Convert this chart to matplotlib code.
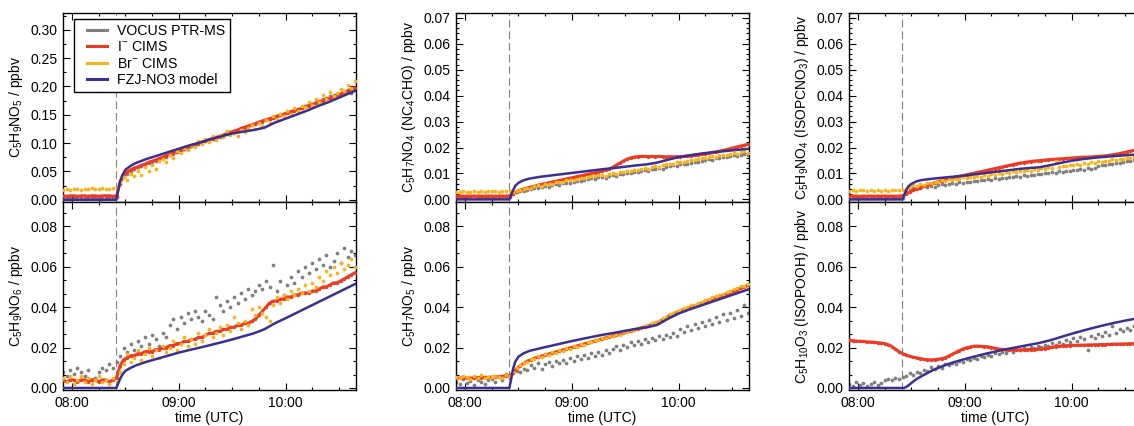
import numpy as np
import matplotlib
matplotlib.use('Agg')
import matplotlib.pyplot as plt
from matplotlib.ticker import MultipleLocator, AutoMinorLocator, FuncFormatter, FormatStrFormatter
from matplotlib.lines import Line2D
from matplotlib.legend_handler import HandlerLine2D

plt.rcParams['font.family'] = ['Liberation Sans', 'DejaVu Sans']
plt.rcParams['mathtext.fontset'] = 'custom'
plt.rcParams['mathtext.rm'] = 'Liberation Sans'
plt.rcParams['mathtext.it'] = 'Liberation Sans:italic'
plt.rcParams['font.size'] = 10

# measurements every 2 min from 07:55 UTC (decimal hours)
t_meas = 7 + (55 + 2 * np.arange(83)) / 60.0
# model output times (decimal hours)
t_model = [7.90, 8.415, 8.43, 8.45, 8.47, 8.50, 8.55, 8.60, 8.70, 8.80, 8.90, 9.00, 9.10, 9.20,
           9.30, 9.40, 9.50, 9.60, 9.70, 9.80, 9.90, 10.00, 10.10, 10.20, 10.30, 10.40, 10.50,
           10.60, 10.70]
t_inject = 8.415

# ---- C5H9NO5 ----
a_vocus = [0.003, 0.004, 0.002, 0.003, 0.004, 0.003, 0.002, 0.004, 0.003, 0.003,
           0.004, 0.002, 0.003, 0.004, 0.003, 0.004, 0.028, 0.040, 0.046, 0.050,
           0.054, 0.057, 0.059, 0.062, 0.064, 0.067, 0.069, 0.071, 0.074, 0.076,
           0.079, 0.081, 0.084, 0.087, 0.089, 0.091, 0.094, 0.096, 0.099, 0.101,
           0.103, 0.105, 0.107, 0.109, 0.111, 0.113, 0.116, 0.118, 0.121, 0.122,
           0.124, 0.127, 0.129, 0.131, 0.133, 0.136, 0.138, 0.140, 0.142, 0.145,
           0.147, 0.149, 0.151, 0.153, 0.156, 0.158, 0.160, 0.162, 0.165, 0.167,
           0.169, 0.172, 0.175, 0.177, 0.180, 0.183, 0.185, 0.187, 0.189, 0.191,
           0.193, 0.188, 0.196]
a_icims = [0.007, 0.006, 0.007, 0.007, 0.006, 0.007, 0.007, 0.006, 0.007, 0.007,
           0.006, 0.007, 0.007, 0.007, 0.006, 0.007, 0.030, 0.042, 0.049, 0.053,
           0.056, 0.058, 0.061, 0.063, 0.066, 0.068, 0.070, 0.073, 0.075, 0.078,
           0.080, 0.083, 0.085, 0.088, 0.090, 0.093, 0.095, 0.097, 0.100, 0.102,
           0.104, 0.106, 0.108, 0.110, 0.112, 0.114, 0.117, 0.119, 0.121, 0.123,
           0.126, 0.128, 0.130, 0.132, 0.134, 0.137, 0.139, 0.141, 0.143, 0.145,
           0.147, 0.149, 0.151, 0.153, 0.155, 0.157, 0.159, 0.161, 0.164, 0.166,
           0.168, 0.170, 0.173, 0.175, 0.177, 0.179, 0.182, 0.184, 0.186, 0.189,
           0.192, 0.195, 0.198]
a_brcims = [0.018, 0.019, 0.018, 0.019, 0.019, 0.018, 0.019, 0.019, 0.020, 0.019,
            0.019, 0.020, 0.019, 0.019, 0.020, 0.021, 0.032, 0.040, 0.035, 0.046,
            0.041, 0.050, 0.044, 0.058, 0.050, 0.062, 0.055, 0.068, 0.071, 0.066,
            0.079, 0.074, 0.086, 0.082, 0.092, 0.087, 0.097, 0.093, 0.104, 0.099,
            0.108, 0.101, 0.112, 0.106, 0.115, 0.110, 0.121, 0.114, 0.118, 0.112,
            0.123, 0.119, 0.127, 0.131, 0.125, 0.136, 0.130, 0.141, 0.136, 0.147,
            0.142, 0.152, 0.147, 0.156, 0.151, 0.162, 0.157, 0.166, 0.163, 0.172,
            0.168, 0.177, 0.173, 0.184, 0.178, 0.190, 0.183, 0.188, 0.196, 0.192,
            0.203, 0.198, 0.210]
a_model = [0, 0, 0.015, 0.033, 0.043, 0.053, 0.060, 0.065, 0.072, 0.078, 0.084, 0.090,
           0.096, 0.101, 0.107, 0.112, 0.117, 0.120, 0.123, 0.127, 0.136, 0.143, 0.150,
           0.157, 0.165, 0.172, 0.180, 0.188, 0.196]

# ---- C5H9NO6 ----
b_vocus = [0.008, 0.006, 0.009, 0.007, 0.010, 0.008, 0.006, 0.009, 0.004, 0.005,
           0.008, 0.010, 0.009, 0.012, 0.010, 0.013, 0.016, 0.020, 0.018, 0.022,
           0.019, 0.023, 0.021, 0.025, 0.022, 0.026, 0.024, 0.021, 0.027, 0.025,
           0.031, 0.034, 0.029, 0.035, 0.032, 0.037, 0.034, 0.038, 0.035, 0.033,
           0.038, 0.036, 0.034, 0.045, 0.041, 0.038, 0.043, 0.040, 0.045, 0.042,
           0.047, 0.044, 0.049, 0.046, 0.048, 0.051, 0.049, 0.053, 0.050, 0.061,
           0.048, 0.053, 0.046, 0.051, 0.055, 0.052, 0.058, 0.055, 0.060, 0.057,
           0.062, 0.059, 0.064, 0.061, 0.066, 0.060, 0.063, 0.067, 0.062, 0.069,
           0.065, 0.068, 0.066]
b_icims = [0.004, 0.003, 0.004, 0.004, 0.003, 0.004, 0.004, 0.003, 0.004, 0.004,
           0.003, 0.004, 0.004, 0.003, 0.004, 0.005, 0.011, 0.014, 0.015, 0.016,
           0.016, 0.017, 0.017, 0.018, 0.018, 0.018, 0.019, 0.019, 0.020, 0.020,
           0.021, 0.021, 0.022, 0.022, 0.023, 0.023, 0.024, 0.024, 0.025, 0.025,
           0.026, 0.027, 0.027, 0.028, 0.028, 0.029, 0.029, 0.030, 0.030, 0.031,
           0.031, 0.032, 0.032, 0.033, 0.034, 0.036, 0.038, 0.040, 0.042, 0.043,
           0.043, 0.044, 0.044, 0.045, 0.045, 0.046, 0.046, 0.047, 0.047, 0.047,
           0.048, 0.048, 0.049, 0.050, 0.050, 0.051, 0.052, 0.052, 0.053, 0.054,
           0.055, 0.056, 0.057]
b_brcims = [0.005, 0.003, 0.006, 0.002, 0.004, 0.006, 0.003, 0.005, 0.002, 0.004,
            0.006, 0.003, 0.004, 0.002, 0.005, 0.003, 0.008, 0.012, 0.017, 0.013,
            0.015, 0.019, 0.014, 0.017, 0.020, 0.016, 0.019, 0.015, 0.021, 0.018,
            0.020, 0.023, 0.019, 0.022, 0.025, 0.021, 0.024, 0.022, 0.027, 0.023,
            0.026, 0.029, 0.025, 0.027, 0.030, 0.026, 0.031, 0.028, 0.035, 0.032,
            0.029, 0.033, 0.031, 0.039, 0.036, 0.040, 0.037, 0.035, 0.033, 0.041,
            0.045, 0.042, 0.046, 0.044, 0.048, 0.046, 0.049, 0.047, 0.051, 0.048,
            0.052, 0.050, 0.055, 0.053, 0.058, 0.056, 0.060, 0.057, 0.062, 0.059,
            0.061, 0.064, 0.060]
b_model = [0, 0, 0.002, 0.0045, 0.0065, 0.0085, 0.0100, 0.0112, 0.0130, 0.0145, 0.0160,
           0.0175, 0.0188, 0.0200, 0.0213, 0.0226, 0.0240, 0.0255, 0.0270, 0.0290, 0.0320,
           0.0345, 0.0371, 0.0397, 0.0423, 0.0449, 0.0475, 0.0501, 0.0527]

# ---- C5H7NO4 (NC4CHO) ----
c_vocus = [0.0010, 0.0008, 0.0011, 0.0009, 0.0010, 0.0012, 0.0009, 0.0011, 0.0010, 0.0008,
           0.0011, 0.0009, 0.0010, 0.0012, 0.0009, 0.0011, 0.0020, 0.0027, 0.0031, 0.0034,
           0.0038, 0.0041, 0.0044, 0.0043, 0.0048, 0.0051, 0.0049, 0.0055, 0.0058, 0.0056,
           0.0062, 0.0065, 0.0063, 0.0069, 0.0072, 0.0070, 0.0076, 0.0078, 0.0081, 0.0079,
           0.0085, 0.0087, 0.0084, 0.0090, 0.0093, 0.0091, 0.0097, 0.0099, 0.0102, 0.0100,
           0.0106, 0.0104, 0.0109, 0.0112, 0.0110, 0.0116, 0.0118, 0.0121, 0.0119, 0.0125,
           0.0128, 0.0131, 0.0129, 0.0135, 0.0138, 0.0136, 0.0142, 0.0145, 0.0143, 0.0149,
           0.0152, 0.0155, 0.0153, 0.0158, 0.0161, 0.0164, 0.0162, 0.0167, 0.0170, 0.0168,
           0.0173, 0.0176, 0.0172]
c_icims = [0.0012, 0.0013, 0.0012, 0.0013, 0.0012, 0.0013, 0.0012, 0.0013, 0.0012, 0.0013,
           0.0013, 0.0012, 0.0013, 0.0012, 0.0013, 0.0014, 0.0022, 0.0030, 0.0036, 0.0040,
           0.0044, 0.0048, 0.0051, 0.0055, 0.0058, 0.0061, 0.0064, 0.0067, 0.0070, 0.0073,
           0.0076, 0.0079, 0.0082, 0.0085, 0.0088, 0.0091, 0.0094, 0.0097, 0.0100, 0.0103,
           0.0106, 0.0109, 0.0112, 0.0117, 0.0124, 0.0132, 0.0140, 0.0148, 0.0155, 0.0160,
           0.0163, 0.0165, 0.0166, 0.0166, 0.0165, 0.0166, 0.0165, 0.0166, 0.0165, 0.0164,
           0.0165, 0.0164, 0.0165, 0.0165, 0.0166, 0.0167, 0.0168, 0.0170, 0.0172, 0.0174,
           0.0176, 0.0178, 0.0181, 0.0183, 0.0186, 0.0189, 0.0192, 0.0196, 0.0199, 0.0203,
           0.0206, 0.0209, 0.0212]
c_brcims = [0.0030, 0.0028, 0.0031, 0.0029, 0.0030, 0.0032, 0.0029, 0.0031, 0.0030, 0.0032,
            0.0031, 0.0033, 0.0030, 0.0032, 0.0031, 0.0033, 0.0030, 0.0033, 0.0036, 0.0041,
            0.0045, 0.0043, 0.0050, 0.0054, 0.0052, 0.0058, 0.0061, 0.0059, 0.0066, 0.0068,
            0.0066, 0.0073, 0.0076, 0.0074, 0.0080, 0.0084, 0.0081, 0.0088, 0.0091, 0.0089,
            0.0095, 0.0093, 0.0090, 0.0098, 0.0102, 0.0099, 0.0106, 0.0104, 0.0110, 0.0108,
            0.0114, 0.0112, 0.0118, 0.0121, 0.0119, 0.0125, 0.0128, 0.0126, 0.0132, 0.0135,
            0.0138, 0.0136, 0.0143, 0.0146, 0.0144, 0.0150, 0.0153, 0.0151, 0.0157, 0.0160,
            0.0158, 0.0164, 0.0167, 0.0165, 0.0170, 0.0173, 0.0171, 0.0177, 0.0179, 0.0176,
            0.0182, 0.0185, 0.0180]
c_model = [0, 0, 0.0015, 0.0035, 0.0052, 0.0064, 0.0074, 0.0080, 0.0087, 0.0092, 0.0097,
           0.0102, 0.0107, 0.0112, 0.0117, 0.0121, 0.0126, 0.0131, 0.0135, 0.0142, 0.0153,
           0.0163, 0.0170, 0.0176, 0.0181, 0.0185, 0.0189, 0.0193, 0.0197]

# ---- C5H9NO4 (ISOPCNO3) ----
d_vocus = [0.0006, 0.0004, 0.0007, 0.0005, 0.0008, 0.0006, 0.0004, 0.0007, 0.0005, 0.0006,
           0.0007, 0.0005, 0.0006, 0.0008, 0.0005, 0.0007, 0.0030, 0.0042, 0.0045, 0.0048,
           0.0044, 0.0050, 0.0047, 0.0052, 0.0049, 0.0055, 0.0058, 0.0054, 0.0060, 0.0063,
           0.0059, 0.0066, 0.0064, 0.0069, 0.0067, 0.0072, 0.0070, 0.0075, 0.0073, 0.0078,
           0.0076, 0.0081, 0.0079, 0.0084, 0.0082, 0.0087, 0.0085, 0.0090, 0.0088, 0.0093,
           0.0091, 0.0096, 0.0094, 0.0099, 0.0097, 0.0102, 0.0100, 0.0105, 0.0103, 0.0108,
           0.0106, 0.0111, 0.0109, 0.0114, 0.0112, 0.0117, 0.0115, 0.0120, 0.0118, 0.0123,
           0.0128, 0.0133, 0.0131, 0.0137, 0.0135, 0.0141, 0.0139, 0.0145, 0.0149, 0.0147,
           0.0152, 0.0156, 0.0154]
d_icims = [0.0013, 0.0012, 0.0013, 0.0012, 0.0013, 0.0012, 0.0013, 0.0012, 0.0013, 0.0012,
           0.0013, 0.0012, 0.0013, 0.0012, 0.0013, 0.0014, 0.0020, 0.0028, 0.0035, 0.0040,
           0.0045, 0.0050, 0.0055, 0.0060, 0.0064, 0.0068, 0.0072, 0.0076, 0.0080, 0.0083,
           0.0086, 0.0089, 0.0092, 0.0095, 0.0098, 0.0101, 0.0104, 0.0107, 0.0110, 0.0113,
           0.0116, 0.0119, 0.0122, 0.0125, 0.0128, 0.0131, 0.0134, 0.0137, 0.0140, 0.0142,
           0.0144, 0.0146, 0.0148, 0.0149, 0.0150, 0.0152, 0.0153, 0.0154, 0.0155, 0.0156,
           0.0157, 0.0158, 0.0159, 0.0160, 0.0161, 0.0162, 0.0163, 0.0163, 0.0164, 0.0165,
           0.0166, 0.0167, 0.0168, 0.0170, 0.0172, 0.0174, 0.0177, 0.0180, 0.0183, 0.0186,
           0.0189, 0.0191, 0.0193]
d_brcims = [0.0032, 0.0036, 0.0031, 0.0035, 0.0037, 0.0032, 0.0035, 0.0033, 0.0037, 0.0034,
            0.0036, 0.0033, 0.0037, 0.0035, 0.0038, 0.0036, 0.0040, 0.0047, 0.0054, 0.0052,
            0.0059, 0.0057, 0.0064, 0.0062, 0.0068, 0.0066, 0.0073, 0.0070, 0.0077, 0.0074,
            0.0080, 0.0078, 0.0085, 0.0082, 0.0088, 0.0085, 0.0091, 0.0088, 0.0094, 0.0092,
            0.0098, 0.0095, 0.0101, 0.0099, 0.0105, 0.0102, 0.0108, 0.0105, 0.0111, 0.0108,
            0.0114, 0.0111, 0.0117, 0.0114, 0.0120, 0.0118, 0.0124, 0.0121, 0.0148, 0.0125,
            0.0130, 0.0127, 0.0133, 0.0131, 0.0137, 0.0134, 0.0140, 0.0137, 0.0143, 0.0141,
            0.0147, 0.0144, 0.0150, 0.0148, 0.0154, 0.0151, 0.0157, 0.0155, 0.0161, 0.0158,
            0.0164, 0.0161, 0.0166]
d_model = [0, 0, 0.0015, 0.0035, 0.0050, 0.0060, 0.0070, 0.0075, 0.0080, 0.0084, 0.0088,
           0.0092, 0.0097, 0.0102, 0.0107, 0.0112, 0.0117, 0.0121, 0.0124, 0.0132, 0.0141,
           0.0149, 0.0155, 0.0160, 0.0164, 0.0167, 0.0170, 0.0173, 0.0176]

# ---- C5H7NO5 ----
e_vocus = [0.0030, 0.0018, 0.0042, 0.0025, 0.0035, 0.0015, 0.0040, 0.0028, 0.0022, 0.0038,
           0.0046, 0.0032, 0.0055, 0.0041, 0.0068, 0.0050, 0.0072, 0.0085, 0.0078, 0.0095,
           0.0088, 0.0112, 0.0101, 0.0124, 0.0096, 0.0118, 0.0130, 0.0108, 0.0135, 0.0122,
           0.0140, 0.0126, 0.0148, 0.0133, 0.0156, 0.0142, 0.0165, 0.0150, 0.0172, 0.0158,
           0.0178, 0.0164, 0.0186, 0.0172, 0.0195, 0.0208, 0.0188, 0.0215, 0.0202, 0.0226,
           0.0212, 0.0234, 0.0220, 0.0242, 0.0228, 0.0249, 0.0236, 0.0256, 0.0244, 0.0262,
           0.0250, 0.0271, 0.0259, 0.0290, 0.0276, 0.0305, 0.0288, 0.0318, 0.0296, 0.0327,
           0.0306, 0.0338, 0.0318, 0.0352, 0.0327, 0.0364, 0.0335, 0.0372, 0.0346, 0.0385,
           0.0358, 0.0410, 0.0372]
e_icims = [0.0050, 0.0049, 0.0051, 0.0050, 0.0049, 0.0050, 0.0052, 0.0051, 0.0053, 0.0052,
           0.0054, 0.0055, 0.0056, 0.0058, 0.0060, 0.0061, 0.0075, 0.0095, 0.0110, 0.0122,
           0.0132, 0.0140, 0.0147, 0.0153, 0.0158, 0.0163, 0.0168, 0.0173, 0.0178, 0.0183,
           0.0188, 0.0193, 0.0198, 0.0203, 0.0208, 0.0213, 0.0218, 0.0223, 0.0228, 0.0233,
           0.0238, 0.0243, 0.0248, 0.0253, 0.0258, 0.0263, 0.0268, 0.0273, 0.0278, 0.0283,
           0.0288, 0.0293, 0.0298, 0.0303, 0.0308, 0.0313, 0.0320, 0.0328, 0.0336, 0.0344,
           0.0360, 0.0367, 0.0374, 0.0381, 0.0388, 0.0394, 0.0400, 0.0406, 0.0413, 0.0420,
           0.0427, 0.0434, 0.0440, 0.0446, 0.0452, 0.0458, 0.0465, 0.0472, 0.0479, 0.0486,
           0.0493, 0.0500, 0.0507]
e_brcims = [0.0055, 0.0048, 0.0060, 0.0052, 0.0046, 0.0057, 0.0050, 0.0062, 0.0049, 0.0056,
            0.0053, 0.0061, 0.0055, 0.0050, 0.0063, 0.0058, 0.0080, 0.0098, 0.0112, 0.0126,
            0.0130, 0.0145, 0.0142, 0.0156, 0.0152, 0.0166, 0.0164, 0.0176, 0.0172, 0.0187,
            0.0184, 0.0197, 0.0195, 0.0206, 0.0203, 0.0217, 0.0214, 0.0226, 0.0225, 0.0238,
            0.0236, 0.0247, 0.0245, 0.0257, 0.0255, 0.0268, 0.0264, 0.0277, 0.0275, 0.0288,
            0.0285, 0.0298, 0.0295, 0.0308, 0.0306, 0.0319, 0.0326, 0.0333, 0.0345, 0.0350,
            0.0365, 0.0370, 0.0381, 0.0386, 0.0395, 0.0399, 0.0409, 0.0412, 0.0422, 0.0426,
            0.0436, 0.0440, 0.0449, 0.0453, 0.0462, 0.0466, 0.0476, 0.0480, 0.0489, 0.0493,
            0.0503, 0.0506, 0.0515]
e_model = [0, 0, 0.004, 0.0095, 0.0130, 0.0155, 0.0172, 0.0183, 0.0196, 0.0208, 0.0220,
           0.0232, 0.0243, 0.0254, 0.0264, 0.0273, 0.0283, 0.0292, 0.0300, 0.0312, 0.0342,
           0.0368, 0.0388, 0.0406, 0.0424, 0.0442, 0.0460, 0.0478, 0.0496]

# ---- C5H10O3 (ISOPOOH) ----
f_vocus = [0.0020, 0.0012, 0.0028, 0.0016, 0.0025, 0.0010, 0.0022, 0.0030, 0.0014, 0.0024,
           0.0038, 0.0045, 0.0040, 0.0050, 0.0043, 0.0052, 0.0060, 0.0072, 0.0065, 0.0080,
           0.0074, 0.0090, 0.0085, 0.0102, 0.0094, 0.0108, 0.0100, 0.0118, 0.0112, 0.0126,
           0.0120, 0.0135, 0.0128, 0.0142, 0.0136, 0.0150, 0.0144, 0.0158, 0.0152, 0.0165,
           0.0159, 0.0172, 0.0166, 0.0180, 0.0174, 0.0186, 0.0180, 0.0192, 0.0186, 0.0198,
           0.0192, 0.0204, 0.0197, 0.0210, 0.0203, 0.0215, 0.0208, 0.0221, 0.0214, 0.0227,
           0.0219, 0.0235, 0.0226, 0.0245, 0.0232, 0.0252, 0.0240, 0.0190, 0.0258, 0.0248,
           0.0268, 0.0256, 0.0276, 0.0264, 0.0305, 0.0272, 0.0290, 0.0280, 0.0298, 0.0286,
           0.0305, 0.0294, 0.0312]
f_icims = [0.0236, 0.0234, 0.0232, 0.0231, 0.0230, 0.0228, 0.0227, 0.0226, 0.0224, 0.0222,
           0.0220, 0.0214, 0.0205, 0.0192, 0.0180, 0.0170, 0.0163, 0.0157, 0.0152, 0.0149,
           0.0145, 0.0142, 0.0140, 0.0139, 0.0140, 0.0142, 0.0145, 0.0150, 0.0158, 0.0167,
           0.0176, 0.0185, 0.0193, 0.0199, 0.0203, 0.0206, 0.0207, 0.0206, 0.0205, 0.0204,
           0.0200, 0.0196, 0.0193, 0.0191, 0.0190, 0.0189, 0.0189, 0.0188, 0.0188, 0.0189,
           0.0189, 0.0190, 0.0190, 0.0191, 0.0193, 0.0195, 0.0198, 0.0201, 0.0204, 0.0206,
           0.0208, 0.0209, 0.0210, 0.0211, 0.0211, 0.0212, 0.0212, 0.0213, 0.0213, 0.0214,
           0.0214, 0.0215, 0.0215, 0.0216, 0.0216, 0.0217, 0.0217, 0.0218, 0.0218, 0.0219,
           0.0219, 0.0220, 0.0221]
f_model = [0, 0, 0, 0.0005, 0.0012, 0.0025, 0.0045, 0.0060, 0.0088, 0.0110, 0.0128,
           0.0143, 0.0157, 0.0170, 0.0182, 0.0193, 0.0203, 0.0213, 0.0223, 0.0236, 0.0252,
           0.0268, 0.0283, 0.0297, 0.0310, 0.0322, 0.0333, 0.0343, 0.0352]

ylabels = ['C$_5$H$_9$NO$_5$ / ppbv', 'C$_5$H$_9$NO$_6$ / ppbv',
           'C$_5$H$_7$NO$_4$ (NC$_4$CHO) / ppbv', 'C$_5$H$_7$NO$_5$ / ppbv',
           'C$_5$H$_9$NO$_4$ (ISOPCNO$_3$) / ppbv', 'C$_5$H$_{10}$O$_3$ (ISOPOOH) / ppbv']

c_vocus_col = '#7f7f7f'
c_icims_col = '#ec3b24'
c_br_col = '#f9b31b'
c_model_col = '#3b2f92'

# panels in (column, row) order
panels = [
    (a_vocus, a_icims, a_brcims, a_model),
    (b_vocus, b_icims, b_brcims, b_model),
    (c_vocus, c_icims, c_brcims, c_model),
    (e_vocus, e_icims, e_brcims, e_model),
    (d_vocus, d_icims, d_brcims, d_model),
    (f_vocus, f_icims, None, f_model),
]
ylims = [(-0.004, 0.33), (-0.001, 0.092), (-0.001, 0.072), (-0.001, 0.092),
         (-0.001, 0.072), (-0.001, 0.092)]
ymajor = [0.05, 0.02, 0.01, 0.02, 0.01, 0.02]
yminor = [2, 3, 5, 3, 5, 3]

W, H = 1134, 426
fig = plt.figure(figsize=(W / 100, H / 100), dpi=100)
lefts = [63, 456, 849]
axw = 293

def hhmm(x, pos):
    h = int(x)
    m = int(round((x - h) * 60))
    return '%02d:%02d' % (h, m)

axes = []
for i, (vocus, icims, brcims, model) in enumerate(panels):
    col, row = i // 2, i % 2
    if row == 0:
        rect = [lefts[col] / W, 1 - 202 / H, axw / W, (202 - 12.7) / H]
    else:
        rect = [lefts[col] / W, 1 - 390 / H, axw / W, 188 / H]
    ax = fig.add_axes(rect)
    axes.append(ax)

    ax.axvline(t_inject, color='#808080', lw=0.8, dashes=(7, 3.5), zorder=1)
    ax.plot(t_meas, vocus, 'o', color=c_vocus_col, ms=2.7, mec='none', zorder=2)
    ax.plot(t_meas, icims, '-', color=c_icims_col, lw=2.2, zorder=3)
    ax.plot(t_meas, icims, 'o', color=c_icims_col, ms=2.4, mec='none', zorder=3)
    if brcims is not None:
        ax.plot(t_meas, brcims, 'o', color=c_br_col, ms=2.7, mec='none', zorder=4)
    ax.plot(t_model, model, '-', color=c_model_col, lw=1.8, zorder=5)

    ax.set_xlim(7.915, 10.66)
    ax.set_ylim(*ylims[i])
    ax.xaxis.set_major_locator(MultipleLocator(1))
    ax.xaxis.set_minor_locator(MultipleLocator(0.25))
    ax.xaxis.set_major_formatter(FuncFormatter(hhmm))
    ax.yaxis.set_major_locator(MultipleLocator(ymajor[i]))
    ax.yaxis.set_minor_locator(AutoMinorLocator(yminor[i]))
    ax.yaxis.set_major_formatter(FormatStrFormatter('%.2f'))
    ax.tick_params(which='both', direction='in', top=True, right=True, width=0.8,
                   labelsize=10, pad=4)
    ax.tick_params(which='major', length=5)
    ax.tick_params(which='minor', length=2.5)
    for s in ax.spines.values():
        s.set_linewidth(1.0)
    ax.set_ylabel(ylabels[i], fontsize=10, labelpad=4)
    if row == 0:
        ax.tick_params(labelbottom=False)
    else:
        ax.set_xlabel('time (UTC)', fontsize=10, labelpad=1)

handles = [Line2D([], [], color=c_vocus_col, lw=2.2),
           Line2D([], [], color=c_icims_col, lw=2.2),
           Line2D([], [], color=c_br_col, lw=2.2),
           Line2D([], [], color=c_model_col, lw=2.2)]
labels = ['VOCUS PTR-MS', 'I$^{-}$ CIMS', 'Br$^{-}$ CIMS', 'FZJ-NO3 model']
leg = axes[0].legend(handles, labels, loc='upper left', bbox_to_anchor=(0.0375, 0.968),
                     borderaxespad=0, fontsize=10.2, frameon=True, fancybox=False,
                     framealpha=1, edgecolor='black', borderpad=0.35, labelspacing=0.18,
                     handlelength=2.0, handletextpad=0.7,
                     handler_map={Line2D: HandlerLine2D(xpad=0.58)})
leg.get_frame().set_linewidth(1.0)
leg.set_zorder(10)

fig.savefig('out.png', dpi=100)
